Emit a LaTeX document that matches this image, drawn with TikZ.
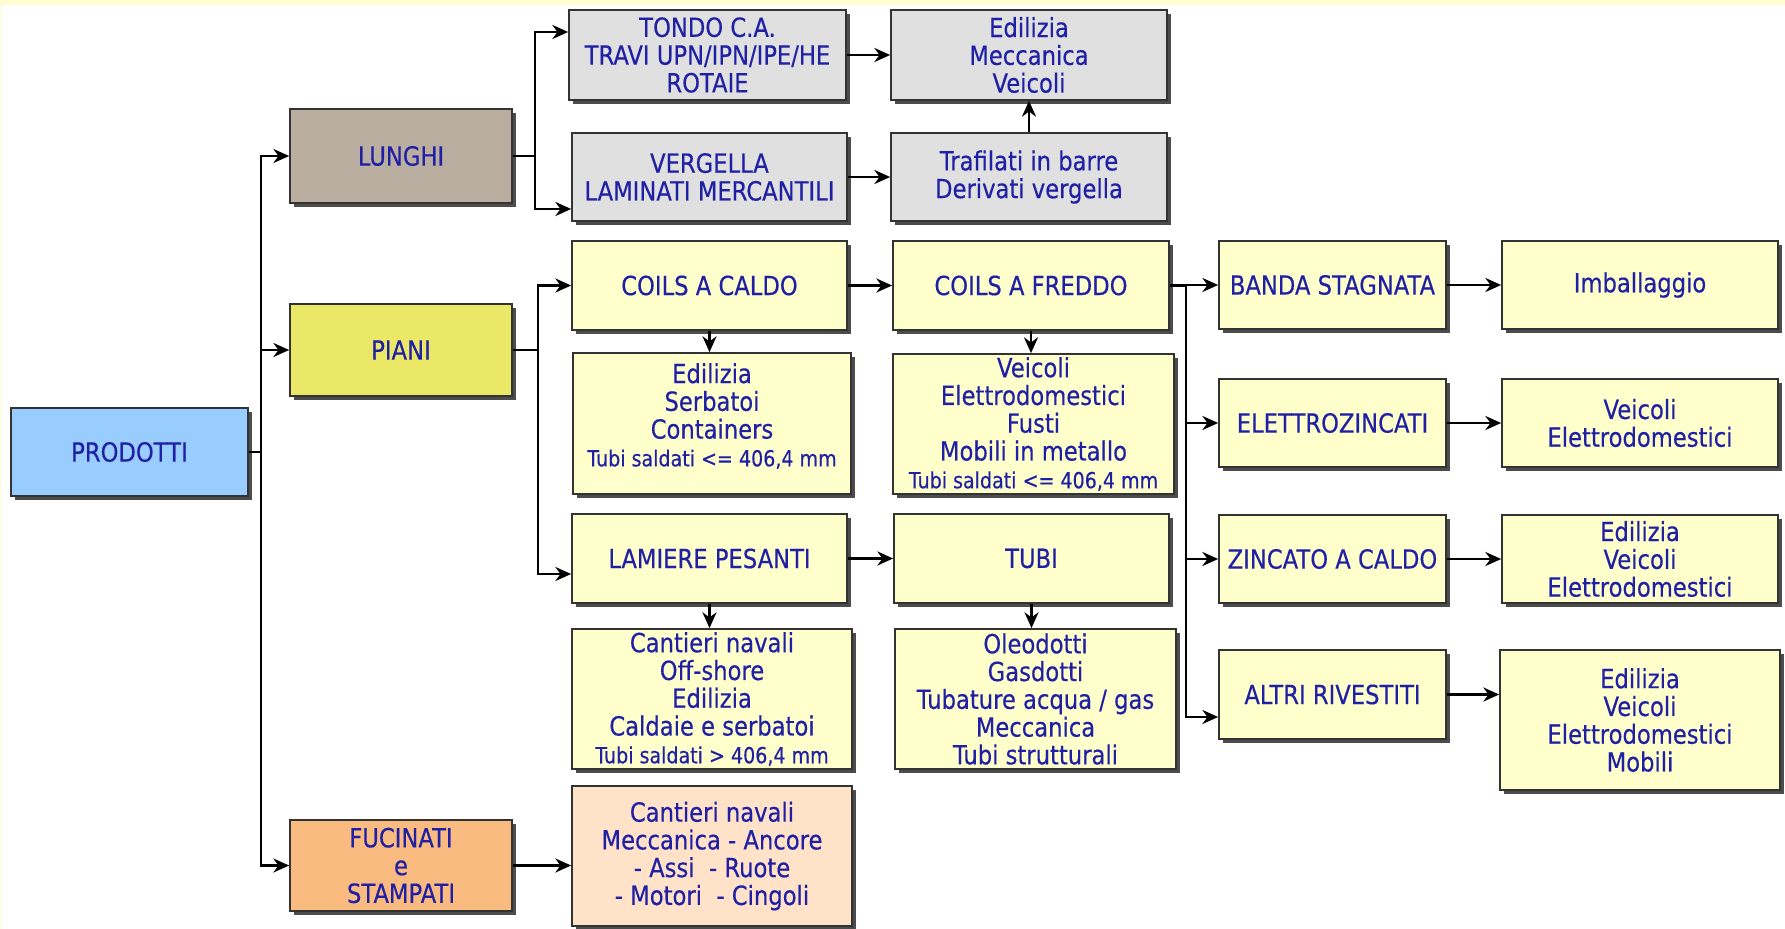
\documentclass[tikz,border=0pt]{standalone}
\usepackage{fontspec}
\setmainfont[FakeStretch=0.86,FakeBold=0.4]{DejaVu Sans}
\usepackage{tikz}
\usetikzlibrary{arrows.meta,shadows}
\definecolor{txtblue}{RGB}{32,32,165}
\definecolor{cielo}{RGB}{153,204,255}
\definecolor{tortora}{RGB}{186,174,160}
\definecolor{giallo}{RGB}{234,232,102}
\definecolor{arancio}{RGB}{249,187,128}
\definecolor{grigio}{RGB}{224,224,224}
\definecolor{crema}{RGB}{255,255,204}
\definecolor{pesca}{RGB}{255,226,200}
\definecolor{bordo}{RGB}{255,253,208}

\begin{document}
\begin{tikzpicture}[x=0.02cm,y=-0.02cm,
  blk/.style={draw=black!80,line width=1pt,inner sep=0pt,align=center,text=txtblue,
    font=\fontsize{15}{15.8}\selectfont,
    drop shadow={shadow xshift=2.5pt,shadow yshift=-2.5pt,opacity=0.7,fill=black}},
  arr/.style={-{Stealth[length=9pt,width=8pt]},line width=1.3pt}]
\fill[bordo] (0,0) rectangle (1785,929);
\fill[white] (1,5) rectangle (1785,929);
\def\sm#1{{\fontsize{12.6}{14}\selectfont #1}}
% primo livello
\node[blk,fill=cielo,minimum width=4.74cm,minimum height=1.76cm] (prod) at (129.5,452) {PRODOTTI};
\node[blk,fill=tortora,minimum width=4.44cm,minimum height=1.88cm] (lunghi) at (401,156) {LUNGHI};
\node[blk,fill=giallo,minimum width=4.44cm,minimum height=1.84cm] (piani) at (401,350) {PIANI};
\node[blk,fill=arancio,minimum width=4.44cm,minimum height=1.82cm] (fucinati) at (401,865.5) {FUCINATI\\e\\STAMPATI};
% lunghi
\node[blk,fill=grigio,minimum width=5.54cm,minimum height=1.80cm] (tondo) at (707.5,55) {TONDO C.A.\\TRAVI UPN/IPN/IPE/HE\\ROTAIE};
\node[blk,fill=grigio,minimum width=5.50cm,minimum height=1.76cm] (vergella) at (709.5,177) {VERGELLA\\LAMINATI MERCANTILI};
\node[blk,fill=grigio,minimum width=5.52cm,minimum height=1.80cm] (usilunghi) at (1029,55) {Edilizia\\Meccanica\\Veicoli};
\node[blk,fill=grigio,minimum width=5.52cm,minimum height=1.76cm] (trafilati) at (1029,177) {Trafilati in barre\\Derivati vergella};
% piani
\node[blk,fill=crema,minimum width=5.50cm,minimum height=1.78cm] (caldo) at (709.5,285.5) {COILS A CALDO};
\node[blk,fill=crema,minimum width=5.56cm,minimum height=2.82cm] (usicaldo) at (712,423.5) {Edilizia\\Serbatoi\\Containers\\\sm{Tubi saldati <= 406,4 mm}\rule[-10pt]{0pt}{0pt}};
\node[blk,fill=crema,minimum width=5.52cm,minimum height=1.78cm] (freddo) at (1031,285.5) {COILS A FREDDO};
\node[blk,fill=crema,minimum width=5.62cm,minimum height=2.80cm] (usifreddo) at (1033.5,424) {Veicoli\\Elettrodomestici\\Fusti\\Mobili in metallo\\\sm{Tubi saldati <= 406,4 mm}};
\node[blk,fill=crema,minimum width=5.50cm,minimum height=1.78cm] (lamiere) at (709.5,558.5) {LAMIERE PESANTI};
\node[blk,fill=crema,minimum width=5.60cm,minimum height=2.80cm] (usilamiere) at (712,699) {Cantieri navali\\Off-shore\\Edilizia\\Caldaie e serbatoi\\\sm{Tubi saldati > 406,4 mm}};
\node[blk,fill=crema,minimum width=5.50cm,minimum height=1.78cm] (tubi) at (1031.5,558.5) {TUBI};
\node[blk,fill=crema,minimum width=5.62cm,minimum height=2.80cm] (usitubi) at (1035.5,699) {Oleodotti\\Gasdotti\\Tubature acqua / gas\\Meccanica\\Tubi strutturali};
% rivestiti
\node[blk,fill=crema,minimum width=4.54cm,minimum height=1.76cm] (banda) at (1332.5,285) {BANDA STAGNATA};
\node[blk,fill=crema,minimum width=4.54cm,minimum height=1.76cm] (elettro) at (1332.5,423) {ELETTROZINCATI};
\node[blk,fill=crema,minimum width=4.54cm,minimum height=1.76cm] (zincato) at (1332.5,559) {ZINCATO A CALDO};
\node[blk,fill=crema,minimum width=4.54cm,minimum height=1.78cm] (altri) at (1332.5,694.5) {ALTRI RIVESTITI};
\node[blk,fill=crema,minimum width=5.52cm,minimum height=1.76cm] (imball) at (1640,285) {Imballaggio};
\node[blk,fill=crema,minimum width=5.52cm,minimum height=1.76cm] (usielettro) at (1640,423) {Veicoli\\Elettrodomestici};
\node[blk,fill=crema,minimum width=5.52cm,minimum height=1.76cm] (usizincato) at (1640,559) {Edilizia\\Veicoli\\Elettrodomestici};
\node[blk,fill=crema,minimum width=5.60cm,minimum height=2.80cm] (usialtri) at (1640,720) {Edilizia\\Veicoli\\Elettrodomestici\\Mobili};
% fucinati
\node[blk,fill=pesca,minimum width=5.60cm,minimum height=2.80cm] (usifucinati) at (712,856) {Cantieri navali\\Meccanica - Ancore\\- Assi~~- Ruote\\- Motori~~- Cingoli};
% snodi
\coordinate (b1) at (261,452);
\coordinate (b2) at (535,156);
\coordinate (b3) at (538,350);
\coordinate (b4) at (1186,285.5);
\draw[arr] (prod.east) -- (b1) |- (lunghi.west);
\draw[arr] (b1) |- (piani.west);
\draw[arr] (b1) |- (fucinati.west);
\draw[arr] (lunghi.east) -- (b2) |- ([yshift=4.6mm]tondo.west);
\draw[arr] (b2) |- ([yshift=-6.4mm]vergella.west);
\draw[arr] (piani.east) -- (b3) |- (caldo.west);
\draw[arr] (b3) |- ([yshift=-3.1mm]lamiere.west);
\draw[arr] (tondo.east) -- (usilunghi.west);
\draw[arr] (vergella.east) -- (trafilati.west);
\draw[arr] (trafilati.north) -- (usilunghi.south);
\draw[arr] (caldo.east) -- (freddo.west);
\draw[arr] (caldo.south) -- (caldo.south |- usicaldo.north);
\draw[arr] (freddo.south) -- (freddo.south |- usifreddo.north);
\draw[arr] (lamiere.east) -- (tubi.west);
\draw[arr] (lamiere.south) -- (lamiere.south |- usilamiere.north);
\draw[arr] (tubi.south) -- (tubi.south |- usitubi.north);
\draw[arr] (fucinati.east) -- (fucinati.east -| usifucinati.west);
\draw[arr] (freddo.east) -- (b4) |- (banda.west);
\draw[arr] (b4) |- (elettro.west);
\draw[arr] (b4) |- (zincato.west);
\draw[arr] (b4) |- ([yshift=-4.5mm]altri.west);
\draw[arr] (banda.east) -- (imball.west);
\draw[arr] (elettro.east) -- (usielettro.west);
\draw[arr] (zincato.east) -- (usizincato.west);
\draw[arr] (altri.east) -- (altri.east -| usialtri.west);
\end{tikzpicture}
\end{document}
